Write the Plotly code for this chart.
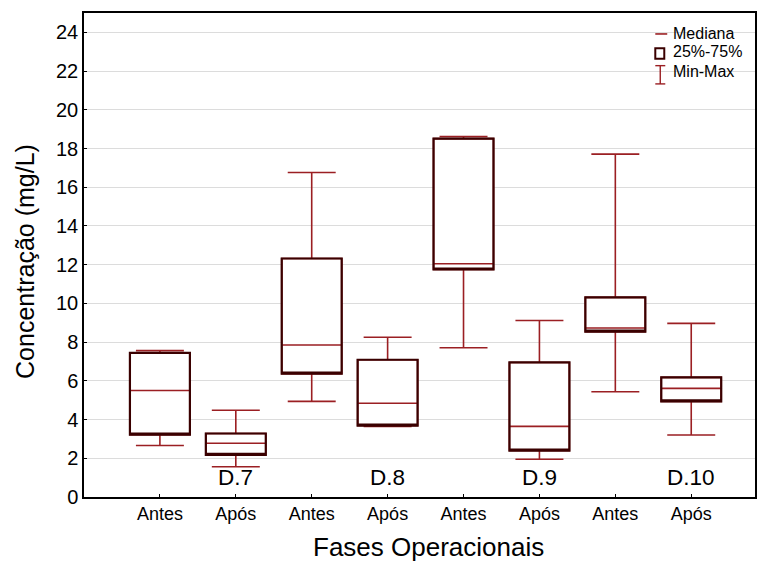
import plotly.graph_objects as go

# Operational phases (before/after) for each dosage stage
phases = ["Antes", "Após", "Antes", "Após", "Antes", "Após", "Antes", "Após"]
stages = ["D.7", "D.8", "D.9", "D.10"]

# Five-number summaries of concentration (mg/L)
minimum = [2.66, 1.56, 4.94, 3.64, 7.71, 1.95, 5.44, 3.20]
q1 = [3.22, 2.18, 6.37, 3.69, 11.75, 2.40, 8.54, 4.94]
median = [5.50, 2.78, 7.85, 4.84, 12.05, 3.65, 8.73, 5.61]
q3 = [7.44, 3.28, 12.32, 7.09, 18.51, 6.95, 10.31, 6.18]
maximum = [7.56, 4.48, 16.76, 8.25, 18.62, 9.12, 17.71, 8.97]

y_ticks = list(range(0, 25, 2))

RED = "#9b1f23"
DARK = "#3a0000"
FONT = "Liberation Sans, Arial, sans-serif"

pos = list(range(len(phases)))

fig = go.Figure()

# Whiskers, caps and median in red
fig.add_trace(go.Box(
    x=pos, q1=q1, median=median, q3=q3,
    lowerfence=minimum, upperfence=maximum,
    boxpoints=False, width=0.79, whiskerwidth=0.8,
    line=dict(color=RED, width=1.6), fillcolor="white",
    showlegend=False, hoverinfo="skip",
))
# Dark 25%-75% box outline on top
fig.add_trace(go.Box(
    x=pos, q1=q1, median=q1, q3=q3,
    lowerfence=q1, upperfence=q3,
    boxpoints=False, width=0.79, whiskerwidth=0,
    line=dict(color=DARK, width=2.2), fillcolor="rgba(0,0,0,0)",
    showlegend=False, hoverinfo="skip",
))

# Stage labels under each "Após" column
annotations = []
for i, s in enumerate(stages):
    annotations.append(dict(
        x=2 * i + 1, y=0.25, xref="x", yref="y", text=s, showarrow=False,
        yanchor="bottom", font=dict(size=22.5, color="black", family=FONT),
    ))

# Axis titles
annotations.append(dict(
    x=0.513, y=-0.103, xref="paper", yref="paper", text="Fases Operacionais",
    showarrow=False, xanchor="center", yanchor="middle",
    font=dict(size=26, color="black", family=FONT),
))
annotations.append(dict(
    x=-0.0877, y=0.486, xref="paper", yref="paper", text="Concentração (mg/L)",
    showarrow=False, xanchor="center", yanchor="middle", textangle=-90,
    font=dict(size=25, color="black", family=FONT),
))

# Hand-built legend in the top-right corner
shapes = [
    dict(type="line", xref="paper", yref="paper", x0=0.8514, x1=0.8692,
         y0=0.9567, y1=0.9567, line=dict(color=RED, width=1.6)),
    dict(type="rect", xref="paper", yref="paper", x0=0.8514, x1=0.8648,
         y0=0.9057, y1=0.9271, line=dict(color=DARK, width=2)),
    dict(type="line", xref="paper", yref="paper", x0=0.8588, x1=0.8588,
         y0=0.8535, y1=0.8912, line=dict(color=RED, width=1.4)),
    dict(type="line", xref="paper", yref="paper", x0=0.8514, x1=0.8663,
         y0=0.8912, y1=0.8912, line=dict(color=RED, width=1.4)),
    dict(type="line", xref="paper", yref="paper", x0=0.8514, x1=0.8663,
         y0=0.8535, y1=0.8535, line=dict(color=RED, width=1.4)),
]
for label, yy in [("Mediana", 0.9567), ("25%-75%", 0.9195), ("Min-Max", 0.8782)]:
    annotations.append(dict(
        x=0.878, y=yy, xref="paper", yref="paper", text=label, showarrow=False,
        xanchor="left", yanchor="middle", xshift=-2,
        font=dict(size=16, color="black", family=FONT),
    ))

fig.update_layout(
    width=760, height=564,
    margin=dict(l=84, r=3, t=13, b=66.5),
    paper_bgcolor="white", plot_bgcolor="white",
    boxmode="overlay",
    font=dict(family=FONT, color="black"),
    annotations=annotations, shapes=shapes,
    xaxis=dict(
        range=[-1, 7.84], tickmode="array", tickvals=pos, ticktext=phases,
        ticks="inside", ticklen=3, tickcolor="black",
        tickfont=dict(size=18), showgrid=False, zeroline=False,
        showline=True, linecolor="black", linewidth=1.5, mirror=True,
    ),
    yaxis=dict(
        range=[0, 25], tickmode="array", tickvals=y_ticks,
        ticks="inside", ticklen=3, tickcolor="black",
        tickfont=dict(size=20), showgrid=True, gridcolor="#dcdcdc", gridwidth=1,
        zeroline=False, showline=True, linecolor="black", linewidth=1.5, mirror=True,
    ),
)

fig.write_html("out.html")
